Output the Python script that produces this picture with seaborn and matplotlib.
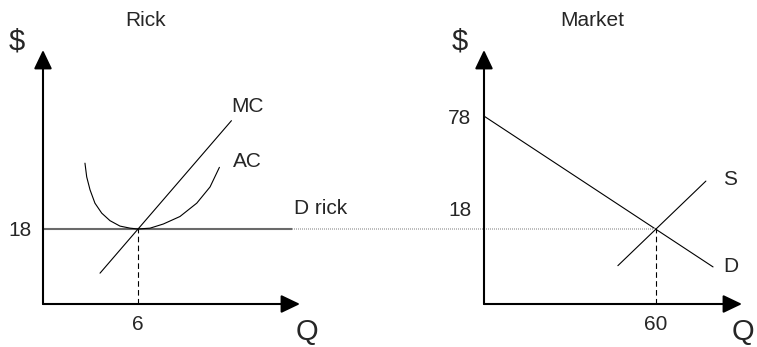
import matplotlib
matplotlib.use("Agg")
import matplotlib.pyplot as plt
import seaborn as sns

sns.set_style("white")
plt.rcParams["font.family"] = ["Liberation Sans", "DejaVu Sans"]

# Rick (single firm) - schematic diagram
q_star = 6
p_star = 18
mc_q = [3.6, 11.9]
mc_p = [7.4, 44.0]
ac_q = [2.65, 2.76, 2.97, 3.28, 3.71, 4.23, 4.86, 5.50, 6.0, 6.76, 7.60, 8.65,
        9.71, 10.55, 11.14]
ac_p = [33.8, 30.5, 27.4, 24.2, 21.8, 20.0, 18.7, 18.2, 18.0, 18.2, 19.2, 21.0,
        24.2, 28.1, 32.8]
drick_q = [0, 15.7]
drick_dotted_q = [15.7, 27.9]

# Market - price axis is not drawn to scale, positions are schematic
mkt_q_star = 60
mkt_price_labels = ["78", "18"]
mkt_price_pos = [45.1, 18]
d_q = [0, 79.9]
d_p = [45.1, 8.9]
s_q = [46.7, 77.4]
s_p = [9.2, 29.5]

W, H = 757, 347
fig = plt.figure(figsize=(W / 100, H / 100), dpi=100)


def px_axes(x0, y_axis, x_tip, y_tip):
    # place an axes by its pixel corners (origin and arrow tips)
    return fig.add_axes([x0 / W, (H - y_axis) / H, (x_tip - x0) / W, (y_axis - y_tip) / H])


ax1 = px_axes(43, 304, 300, 50)
ax2 = px_axes(484, 304, 742, 50)
ax1.set_xlim(0, 16.23)
ax2.set_xlim(0, 90)
for ax in (ax1, ax2):
    ax.set_ylim(0, 60.96)
    ax.set_xticks([])
    ax.set_yticks([])
    for s in ax.spines.values():
        s.set_visible(False)
    ax.patch.set_alpha(0)
    arrow = dict(arrowstyle="-|>,head_length=1.15,head_width=0.55", lw=1.5,
                 color="black", shrinkA=0, shrinkB=0, mutation_scale=10)
    ax.annotate("", xy=(1, 0), xytext=(0, 0), xycoords="axes fraction",
                arrowprops=arrow, annotation_clip=False)
    ax.annotate("", xy=(0, 1), xytext=(0, 0), xycoords="axes fraction",
                arrowprops=arrow, annotation_clip=False)

line_kw = dict(color="black", lw=0.8, sort=False, estimator=None, legend=False)

# left panel
sns.lineplot(x=drick_q, y=[p_star, p_star], ax=ax1, color="#6a6a6a", lw=1.5,
             legend=False)
ax1.plot(drick_dotted_q, [p_star, p_star], color="#b0b0b0", lw=1.2,
         ls=(0, (0.6, 0.6)), clip_on=False)
sns.lineplot(x=mc_q, y=mc_p, ax=ax1, **line_kw)
sns.lineplot(x=ac_q, y=ac_p, ax=ax1, **line_kw)
ax1.plot([q_star, q_star], [0, p_star], color="black", lw=0.8, ls=(0, (5, 3)))

lbl = dict(fontsize=15, textcoords="offset points", annotation_clip=False)
ax1.annotate("MC", xy=(12.89, 47.3), xytext=(0, 0), ha="center", va="center", **lbl)
ax1.annotate("AC", xy=(12.89, 34.3), xytext=(0, 0), ha="center", va="center", **lbl)
ax1.annotate("D rick", xy=(17.56, 22.8), xytext=(0, 0), ha="center", va="center", **lbl)
ax1.annotate(str(p_star), xy=(0, p_star), xytext=(-8, 0), ha="right",
             va="center_baseline", **lbl)
ax1.annotate(str(q_star), xy=(q_star, 0), xytext=(0, -8), ha="center", va="top", **lbl)

# right panel
sns.lineplot(x=d_q, y=d_p, ax=ax2, **line_kw)
sns.lineplot(x=s_q, y=s_p, ax=ax2, **line_kw)
ax2.plot([mkt_q_star, mkt_q_star], [0, mkt_price_pos[1]], color="black", lw=0.8,
         ls=(0, (5, 3)))
ax2.plot([0, mkt_q_star], [mkt_price_pos[1]] * 2, color="#b0b0b0", lw=1.2,
         ls=(0, (0.6, 0.6)))
ax2.annotate(mkt_price_labels[0], xy=(0, mkt_price_pos[0]), xytext=(-9, 0),
             ha="right", va="center_baseline", **lbl)
ax2.annotate(mkt_price_labels[1], xy=(0, mkt_price_pos[1]), xytext=(-9, 15),
             ha="right", va="center_baseline", **lbl)
ax2.annotate(str(mkt_q_star), xy=(mkt_q_star, 0), xytext=(0, -8), ha="center",
             va="top", **lbl)
ax2.annotate("S", xy=(85.8, 29.8), xytext=(0, 0), ha="center", va="center", **lbl)
ax2.annotate("D", xy=(86.2, 8.9), xytext=(0, 0), ha="center", va="center", **lbl)

# panel titles and axis letters
fig.text(146 / W, 1 - 20 / H, "Rick", fontsize=15, ha="center", va="center")
fig.text(592 / W, 1 - 20 / H, "Market", fontsize=15, ha="center", va="center")
for x in (17, 460):
    fig.text(x / W, 1 - 42 / H, "$", fontsize=21, ha="center", va="center")
for x in (307, 743):
    fig.text(x / W, 1 - 332 / H, "Q", fontsize=21, ha="center", va="center")

fig.savefig("out.png", dpi=100)
